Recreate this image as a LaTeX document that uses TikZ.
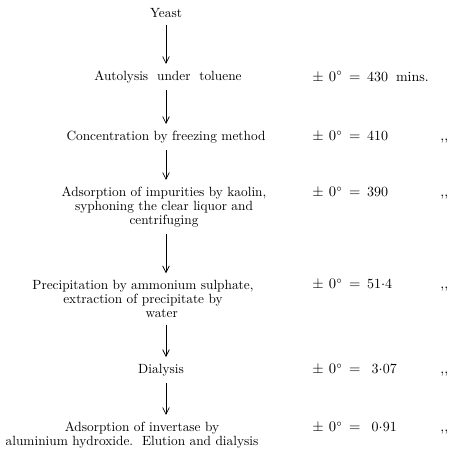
\documentclass[tikz,border=0pt]{standalone}
\usepackage{amsmath}
\usepackage{amssymb}
\usepackage{tikz}
\usetikzlibrary{arrows.meta}

\newcommand{\degeq}[1]{$\pm$\hspace{4pt}$0^\circ$\hspace{5pt}$=$\hspace{5pt}#1}
\newcommand{\ditto}{\hfill {,}{,}}

\begin{document}
\begin{tikzpicture}[x=0.75pt, y=-0.75pt,
  stage/.style={align=center, font=\fontsize{10}{10.5}\selectfont, inner sep=5pt},
  value/.style={anchor=west, text width=102pt, align=left, inner sep=0pt, font=\fontsize{10.5}{11}\selectfont},
  flow/.style={-{Straight Barb[length=5pt, width=5pt]}, line width=0.55pt}]
\useasboundingbox (0,0) rectangle (475,454);
\path
(166,13) node[stage] (yeast) {Yeast};
\path
(168,77) node[stage] (autolysis) {Autolysis\ \ under\ \ toluene};
\path
(166,137) node[stage] (freezing) {Concentration by freezing method};
\path
(164,207) node[stage] (kaolin) {Adsorption of impurities by kaolin,\\ syphoning the clear liquor and\\ centrifuging};
\path
(143,299) node[stage] (sulphate) {Precipitation by ammonium sulphate,\\ extraction of precipitate by\\ \hspace*{2.8em}water};
\path
(161,370) node[stage] (dialysis) {Dialysis};
\path
(132,435) node[stage] (hydroxide) {\hspace*{1.5em}Adsorption of invertase by\\ aluminium hydroxide.\ \ Elution and dialysis};
% rates
\path
(312,77) node[value] (r1) {\degeq{430}\hspace{6pt}mins.};
\path
(312,137) node[value] (r2) {\degeq{410} \ditto};
\path
(312,193) node[value] (r3) {\degeq{390} \ditto};
\path
(312,285) node[value] (r4) {\degeq{51${\cdot}$4} \ditto};
\path
(312,370) node[value] (r5) {\degeq{\ 3${\cdot}$07} \ditto};
\path
(312,428) node[value] (r6) {\degeq{\ 0${\cdot}$91} \ditto};
% arrows
\draw[flow] (yeast.south) -- (yeast.south |- autolysis.north);
\draw[flow] (yeast.south |- autolysis.south) -- (yeast.south |- freezing.north);
\draw[flow] (yeast.south |- freezing.south) -- (yeast.south |- kaolin.north);
\draw[flow] (yeast.south |- kaolin.south) -- (yeast.south |- sulphate.north);
\draw[flow] (yeast.south |- sulphate.south) -- (yeast.south |- dialysis.north);
\draw[flow] (yeast.south |- dialysis.south) -- (yeast.south |- hydroxide.north);
\end{tikzpicture}
\end{document}
